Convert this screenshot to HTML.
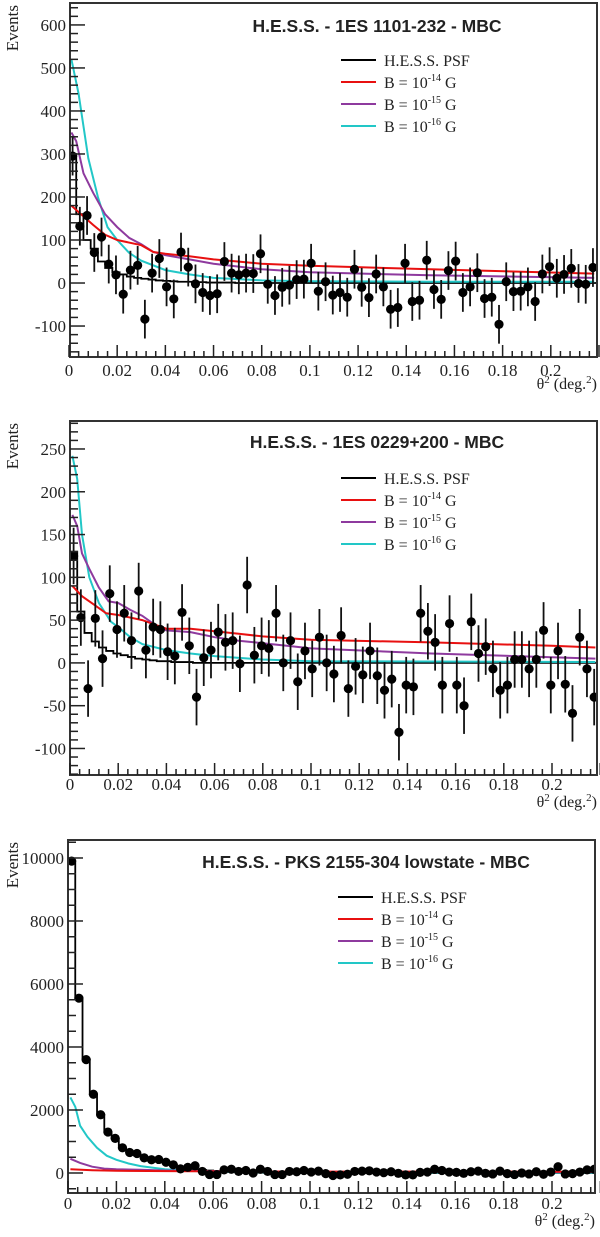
<!DOCTYPE html>
<html><head><meta charset="utf-8"><style>
body{margin:0;background:#fff;}
svg{display:block;}
text{font-family:"Liberation Serif",serif;fill:#222;}
.ttl{font-family:"Liberation Sans",sans-serif;font-weight:bold;font-size:17.5px;}
</style></head><body>
<svg id="chart" width="600" height="1237" xmlns="http://www.w3.org/2000/svg"></svg>
<script>
// ---- data ----
const binWidth = 0.003;
const p1Counts = [295,132,157,71,107,44,19,-26,30,41,-84,23,57,-9,-37,72,37,-2,-22,-29,-25,50,23,19,23,22,68,-3,-29,-10,-5,8,
  9,46,-19,3,-28,-22,-33,32,-10,-34,21,-9,-61,-57,46,-43,-40,53,-15,-38,29,51,-22,-9,24,-36,-33,-96,3,-20,-19,-9,-43,21,38,11,20,34,-1,-3,36];
const p1Errors = [45,45,45,45,45,45,45,45,45,45,45,45,45,45,45,45,45,45,45,45,45,45,45,45,45,45,45,45,45,45,45,45,45,45,45,45,45,45,45,45,45,45,45,45,45,45,45,45,45,45,45,45,45,45,45,45,45,45,45,45,45,45,45,45,45,45,45,45,45,45,45,45,45];
const p1Psf = [300,160,100,80,50,35,25,20,15,12,10,8,6,5,4,3,3,2,2,1,1,1,1,0,0,0,0,0,0,0];
const p1CyanX = [0.001,0.004,0.008,0.012,0.016,0.02,0.025,0.03,0.04,0.05,0.06,0.08,0.1,0.15,0.218];
const p1CyanY = [520,440,290,200,130,100,70,52,30,20,12,6,4,3,3];
const p1PurpleX = [0.001,0.003,0.006,0.01,0.015,0.02,0.025,0.03,0.035,0.04,0.05,0.06,0.08,0.1,0.15,0.218];
const p1PurpleY = [350,330,255,210,160,130,105,90,72,65,55,45,32,25,18,12];
const p1RedX = [0.001,0.005,0.01,0.015,0.02,0.03,0.035,0.04,0.05,0.06,0.07,0.08,0.1,0.15,0.218];
const p1RedY = [180,160,135,112,100,88,72,68,62,55,50,45,40,32,22];

const p2Counts = [125,53,-30,52,5,81,39,58,26,84,15,42,39,13,8,59,20,-40,6,15,36,24,26,-1,91,9,20,17,58,0,
  26,-22,14,-7,30,0,-13,32,-30,-4,-14,14,-15,-32,-19,-81,-26,-28,58,37,24,-26,46,-26,-50,48,11,19,-7,-32,-26,4,4,-7,4,38,-26,14,-25,-59,30,-7,-40];
const p2Errors = [33,33,33,33,33,33,33,33,33,33,33,33,33,33,33,33,33,33,33,33,33,33,33,33,33,33,33,33,33,33,33,33,33,33,33,33,33,33,33,33,33,33,33,33,33,33,33,33,33,33,33,33,33,33,33,33,33,33,33,33,33,33,33,33,33,33,33,33,33,33,33,33,33];
const p2Psf = [130,60,35,25,18,14,11,9,7,5,4,3,2,2,1,1,1,0,0,0,0,0,0,0,0];
const p2CyanX = [0.001,0.003,0.005,0.008,0.012,0.017,0.02,0.025,0.03,0.04,0.05,0.06,0.08,0.1,0.218];
const p2CyanY = [242,215,150,100,70,48,42,30,22,15,11,8,4,2,1];
const p2PurpleX = [0.001,0.003,0.005,0.008,0.012,0.016,0.02,0.025,0.03,0.035,0.04,0.05,0.06,0.07,0.08,0.09,0.1,0.15,0.218];
const p2PurpleY = [173,160,128,110,88,72,70,62,55,45,38,36,30,26,23,20,17,11,5];
const p2RedX = [0.001,0.005,0.01,0.015,0.02,0.03,0.035,0.04,0.05,0.06,0.07,0.08,0.09,0.1,0.15,0.2,0.218];
const p2RedY = [90,78,68,58,56,50,45,40,40,37,34,31,29,27,24,20,18];

const p3Counts = [9900,5550,3600,2500,1850,1300,1100,800,650,620,480,420,430,340,260,130,180,230,50,-50,-50,100,120,50,80,0,120,50,-50,-50,
  50,40,80,30,60,-20,-80,-60,-40,50,60,70,30,10,40,-10,-60,-60,20,30,120,80,30,20,-10,40,60,-10,-30,60,-20,-50,0,-30,40,-40,30,200,-30,-20,30,100,120];
const p3Errors = [100,80,70,60,55,50,45,45,40,40,40,40,40,40,40,40,40,40,40,40,40,40,40,40,40,40,40,40,40,40,40,40,40,40,40,40,40,40,40,40,40,40,40,40,40,40,40,40,40,40,40,40,40,40,40,40,40,40,40,40,40,40,40,40,40,40,40,40,40,40,40,40,40];
const p3Psf = [9900,5550,3600,2500,1850,1300,1100,800,650,600,480,420,400,330,260,200,150,120,100,80,60,45,35,25,18,12,8,5,3,2,0];
const p3CyanX = [0.001,0.003,0.005,0.008,0.012,0.016,0.02,0.025,0.03,0.04,0.05,0.06,0.08,0.218];
const p3CyanY = [2400,2100,1500,1150,800,550,420,300,220,120,70,40,20,10];
const p3PurpleX = [0.001,0.005,0.01,0.015,0.02,0.03,0.04,0.06,0.1,0.218];
const p3PurpleY = [450,320,200,140,120,100,80,60,40,30];
const p3RedX = [0.001,0.01,0.02,0.05,0.1,0.218];
const p3RedY = [120,90,70,55,45,40];

const xTicks = [0,0.02,0.04,0.06,0.08,0.1,0.12,0.14,0.16,0.18,0.2];
const xTickLabels = ["0","0.02","0.04","0.06","0.08","0.1","0.12","0.14","0.16","0.18","0.2"];
const p1YTicks = [-100,0,100,200,300,400,500,600];
const p2YTicks = [-100,-50,0,50,100,150,200,250];
const p3YTicks = [0,2000,4000,6000,8000,10000];

const svg = document.getElementById('chart');
const NS = 'http://www.w3.org/2000/svg';
function mk(tag, attrs, parent){
  const e = document.createElementNS(NS, tag);
  for (const k in attrs) e.setAttribute(k, attrs[k]);
  (parent||svg).appendChild(e);
  return e;
}

const panels = [
  {id:'p1', title:'H.E.S.S. - 1ES 1101-232 - MBC', titleX:377, left:70, right:597, top:3, bottom:357, yMin:-172, yMax:651, x0:69, xScale:2409,
   counts:p1Counts, errs:p1Errors, psf:p1Psf, cx:p1CyanX, cy:p1CyanY, px:p1PurpleX, py:p1PurpleY, rx:p1RedX, ry:p1RedY,
   yTicks:p1YTicks, yMinor:20, titleY:32, legY:60, legX:341, xlabY:376, xtitleY:389},
  {id:'p2', title:'H.E.S.S. - 1ES 0229+200 - MBC', titleX:377, left:70, right:597, top:421, bottom:775, yMin:-131, yMax:282.7, x0:70, xScale:2410,
   counts:p2Counts, errs:p2Errors, psf:p2Psf, cx:p2CyanX, cy:p2CyanY, px:p2PurpleX, py:p2PurpleY, rx:p2RedX, ry:p2RedY,
   yTicks:p2YTicks, yMinor:10, titleY:448, legY:478, legX:341, xlabY:790, xtitleY:807},
  {id:'p3', title:'H.E.S.S. - PKS 2155-304 lowstate - MBC', titleX:366, left:68, right:595, top:840, bottom:1193, yMin:-635, yMax:10571, x0:68, xScale:2420,
   counts:p3Counts, errs:p3Errors, psf:p3Psf, cx:p3CyanX, cy:p3CyanY, px:p3PurpleX, py:p3PurpleY, rx:p3RedX, ry:p3RedY,
   yTicks:p3YTicks, yMinor:500, titleY:868, legY:897, legX:338, xlabY:1209, xtitleY:1226}
];

panels.forEach(P => {
  const g = mk('g', {});
  
  
  const X = v => P.x0 + v * P.xScale;
  const Y = v => P.bottom - (v - P.yMin) / (P.yMax - P.yMin) * (P.bottom - P.top);
  const clipId = 'clip' + P.id;
  const cp = mk('clipPath', {id:clipId}, g);
  mk('rect', {x:P.left, y:P.top, width:P.right-P.left, height:P.bottom-P.top}, cp);
  const plot = mk('g', {'clip-path':'url(#'+clipId+')'}, g);

  let d = 'M' + X(0) + ' ' + Y(P.psf[0]);
  P.psf.forEach((v,i) => {
    d += ' L' + X(i*binWidth) + ' ' + Y(v) + ' L' + X((i+1)*binWidth) + ' ' + Y(v);
  });
  d += ' L' + X(0.22) + ' ' + Y(0);
  const psf = mk('path', {d:d, fill:'none', stroke:'#000', 'stroke-width':1.8}, plot);
  
  

  [['cyan-curve', P.cx, P.cy, '#22c7c7'], ['purple-curve', P.px, P.py, '#8e3a9e'], ['red-curve', P.rx, P.ry, '#e81010']].forEach(c => {
    const pts = c[1].map((xv,i) => X(xv).toFixed(1) + ',' + Y(c[2][i]).toFixed(1)).join(' ');
    const pl = mk('polyline', {points:pts, fill:'none', stroke:c[3], 'stroke-width':2}, plot);
    
    
  });

  P.counts.forEach((v,i) => {
    const cx = X((i+0.5)*binWidth);
    const e = P.errs[i];
    const eb = mk('line', {x1:cx, x2:cx, y1:Y(v+e), y2:Y(v-e), stroke:'#111', 'stroke-width':1.8}, plot);
    
    
    const pt = mk('circle', {cx:cx, cy:Y(v), r:4.6, fill:'#000'}, plot);
    
    
  });

  const fr = mk('rect', {x:P.left, y:P.top, width:P.right-P.left, height:P.bottom-P.top, fill:'none', stroke:'#333', 'stroke-width':2}, g);
  
  

  for (let t = 0; t <= 0.2201; t += 0.004) {
    const major = Math.abs(t/0.02 - Math.round(t/0.02)) < 1e-6;
    mk('line', {x1:X(t), x2:X(t), y1:P.bottom, y2:P.bottom - (major?12:6), stroke:'#222', 'stroke-width':1.5}, g);
  }
  xTicks.forEach((t,i) => {
    const tl = mk('text', {x:X(t), y:P.xlabY, 'text-anchor':'middle', 'font-size':17}, g);
    tl.textContent = xTickLabels[i];
    
    
  });
  const xt = mk('text', {x:P.right, y:P.xtitleY, 'text-anchor':'end', 'font-size':16}, g);
  xt.innerHTML = 'θ<tspan dy="-6" font-size="11">2</tspan><tspan dy="6"> (deg.</tspan><tspan dy="-6" font-size="11">2</tspan><tspan dy="6">)</tspan>';
  
  

  const mstart = Math.ceil(P.yMin / P.yMinor) * P.yMinor;
  for (let v = mstart; v <= P.yMax; v += P.yMinor) {
    const major = P.yTicks.indexOf(Math.round(v)) >= 0;
    mk('line', {x1:P.left, x2:P.left + (major?15:8), y1:Y(v), y2:Y(v), stroke:'#222', 'stroke-width':1.5}, g);
  }
  P.yTicks.forEach(v => {
    const tl = mk('text', {x:P.left-4, y:Y(v)+6, 'text-anchor':'end', 'font-size':17}, g);
    tl.textContent = String(v);
    
    
  });
  const yt = mk('text', {x:0, y:0, 'text-anchor':'end', 'font-size':17, transform:'translate(18,'+(P.top+2)+') rotate(-90)'}, g);
  yt.textContent = 'Events';
  
  

  const ti = mk('text', {x:P.titleX, y:P.titleY, 'text-anchor':'middle', class:'ttl'}, g);
  ti.textContent = P.title;
  
  

  const leg = mk('g', {}, g);
  
  
  const items = [['#000','H.E.S.S. PSF',null],['#e81010','B = 10','-14'],['#8e3a9e','B = 10','-15'],['#22c7c7','B = 10','-16']];
  items.forEach((it,i) => {
    const y = P.legY + i*22;
    const ent = mk('g', {}, leg);
    
    
    mk('line', {x1:P.legX, x2:P.legX+35, y1:y, y2:y, stroke:it[0], 'stroke-width':2}, ent);
    const t = mk('text', {x:P.legX+43, y:y+6, 'font-size':16}, ent);
    if (it[2]) t.innerHTML = it[1] + '<tspan dy="-7" font-size="10">' + it[2] + '</tspan><tspan dy="7"> G</tspan>';
    else t.textContent = it[1];
  });
});
</script>
</body></html>
